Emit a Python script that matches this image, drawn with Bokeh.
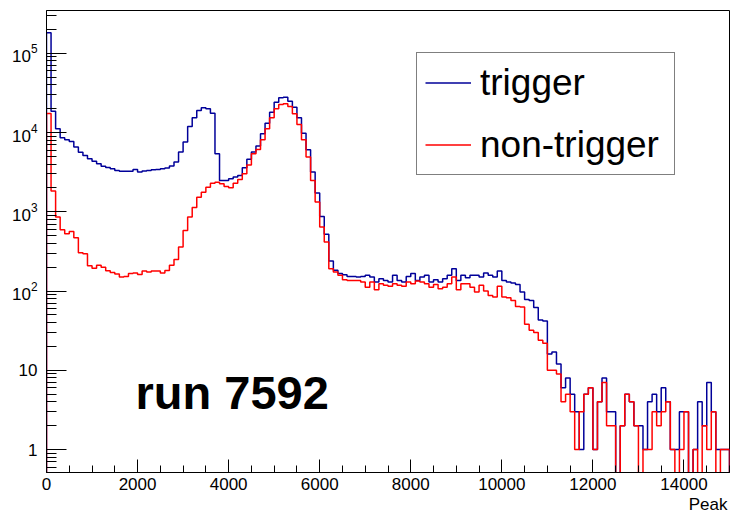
import numpy as np
from bokeh.plotting import figure
from bokeh.models import (Range1d, FixedTicker, LogTickFormatter, Legend,
                          LegendItem, Label, Title)
from bokeh.embed import file_html
from bokeh.resources import INLINE

# ---------------- data (histogram bin contents, 150 bins of width 100) ----------------
bin_width = 100
x_lo, x_hi = 0, 15000
trigger = [
    181500, 18600, 11170, 8600, 8110, 7720, 6550, 5660, 5140, 4670,
    4360, 4040, 3770, 3630, 3490, 3325, 3260, 3240, 3240, 3420,
    3170, 3265, 3330, 3390, 3425, 3490, 3560, 3780, 4240, 5670,
    7575, 11940, 15360, 19000, 20530, 19940, 17580, 5400, 2490, 2490,
    2610, 2740, 2880, 3600, 4600, 5670, 6745, 9650, 13150, 18100,
    24200, 27440, 27980, 24900, 20930, 15360, 9835, 6063, 3170, 1723,
    875, 520, 240, 183, 166, 161, 153, 153, 150, 153,
    158, 150, 130, 143, 136, 130, 158, 136, 130, 153,
    166, 136, 150, 158, 130, 139, 130, 143, 158, 191,
    136, 158, 147, 158, 158, 150, 169, 158, 150, 179,
    136, 130, 126, 121, 97, 78, 76, 62, 43, 42,
    16, 17, 12, 6, 8, 5, 3, 1, 5, 6,
    1, 4, 8, 3, 3, 0, 2, 5, 4, 2,
    2, 1, 4, 5, 3, 6, 4, 1, 1, 3,
    3, 0, 1, 4, 2, 7, 3, 1, 1, 1,
]
non_trigger = [
    17400, 1824, 857, 594, 530, 566, 471, 305, 296, 209,
    194, 211, 199, 180, 172, 164, 150, 153, 166, 169,
    162, 179, 174, 179, 179, 169, 182, 211, 250, 360,
    580, 857, 1136, 1531, 1771, 2048, 2300, 2366, 2260, 2090,
    2010, 2300, 2550, 3020, 3900, 5400, 6120, 8100, 11150, 15360,
    19940, 22610, 23050, 21340, 17240, 12650, 8100, 4900, 2490, 1327,
    642, 415, 191, 174, 158, 139, 136, 136, 136, 130,
    112, 130, 104, 124, 118, 115, 124, 118, 115, 130,
    124, 134, 130, 124, 112, 121, 107, 112, 124, 150,
    104, 124, 124, 112, 97, 118, 100, 88, 84, 115,
    84, 82, 76, 64, 63, 38, 32, 30, 24, 22,
    10, 10, 9, 4, 5, 3, 1, 3, 5, 6,
    1, 4, 7, 2, 2, 0, 2, 5, 4, 2,
    0, 1, 1, 3, 2, 3, 4, 1, 0, 1,
    3, 0, 1, 0, 2, 1, 3, 0, 1, 1,
]
series_names = ["trigger", "non-trigger"]
x_major_ticks = [0, 2000, 4000, 6000, 8000, 10000, 12000, 14000]
x_minor_ticks = [v for v in range(0, 15001, 500) if v % 2000 != 0]
y_major_ticks = [1, 10, 100, 1000, 10000, 100000]
y_minor_ticks = [m * 10.0 ** k for k in range(-1, 6) for m in range(2, 10)]
y_lo, y_hi = 0.513, 3.47e5
annotation_text = "run 7592"
x_title = "Peak"

# ---------------- figure ----------------
p = figure(width=730, height=514, output_backend="svg", toolbar_location=None,
           y_axis_type="log",
           x_range=Range1d(x_lo, x_hi), y_range=Range1d(y_lo, y_hi),
           min_border_left=46, min_border_right=1, min_border_top=10,
           min_border_bottom=42)
p.background_fill_color = "white"
p.border_fill_color = "white"
p.outline_line_color = "black"
p.outline_line_width = 1
p.xgrid.visible = False
p.ygrid.visible = False

FONT = "Liberation Sans"

xa = p.xaxis[0]
xa.ticker = FixedTicker(ticks=x_major_ticks, minor_ticks=x_minor_ticks)
xa.major_tick_in = 13
xa.major_tick_out = 0
xa.minor_tick_in = 7
xa.minor_tick_out = 0
xa.axis_line_color = "black"
xa.major_tick_line_color = "black"
xa.minor_tick_line_color = "black"
xa.major_label_text_font = FONT
xa.major_label_text_font_size = "17px"
xa.major_label_text_color = "black"
xa.major_label_standoff = 5

ya = p.yaxis[0]
ya.ticker = FixedTicker(ticks=y_major_ticks, minor_ticks=y_minor_ticks)
ya.formatter = LogTickFormatter(min_exponent=2)
ya.major_tick_in = 20
ya.major_tick_out = 0
ya.minor_tick_in = 10
ya.minor_tick_out = 0
ya.axis_line_color = "black"
ya.major_tick_line_color = "black"
ya.minor_tick_line_color = "black"
ya.major_label_text_font = FONT
ya.major_label_text_font_size = "17px"
ya.major_label_text_color = "black"
ya.major_label_standoff = 9

# ---------------- histogram outlines ----------------
edges = x_lo + np.arange(len(trigger) + 1) * bin_width
floor = 1e-3


def outline(counts):
    c = np.asarray(counts, dtype=float)
    c = np.where(c > 0, c, floor)
    xs = np.repeat(edges, 2)
    ys = np.concatenate([[floor], np.repeat(c, 2), [floor]])
    return xs, ys


bx, by = outline(trigger)
rx, ry = outline(non_trigger)
r_blue = p.line(bx, by, line_color="#000099", line_width=1.5)
r_red = p.line(rx, ry, line_color="#ff0000", line_width=1.5)

# ---------------- legend ----------------
legend = Legend(items=[LegendItem(label=series_names[0], renderers=[r_blue]),
                       LegendItem(label=series_names[1], renderers=[r_red])],
                location=(370, 297), orientation="vertical",
                label_text_font=FONT, label_text_font_size="37px",
                label_text_color="black",
                glyph_width=46, glyph_height=43, label_height=43,
                label_width=186, label_standoff=9, spacing=19, padding=8,
                margin=0, border_line_color="black", border_line_width=1,
                background_fill_color="white", background_fill_alpha=1.0)
p.add_layout(legend)

# ---------------- texts ----------------
p.add_layout(Label(x=89, y=80, x_units="screen", y_units="screen",
                   text=annotation_text, text_font=FONT,
                   text_font_size="47px", text_font_style="bold",
                   text_color="black", text_baseline="middle",
                   text_align="left"))
p.add_layout(Title(text=x_title, align="right", offset=2, standoff=0,
                   text_font=FONT, text_font_size="17px",
                   text_font_style="normal", text_color="black"), "below")

open("out.html", "w").write(file_html(p, INLINE))
